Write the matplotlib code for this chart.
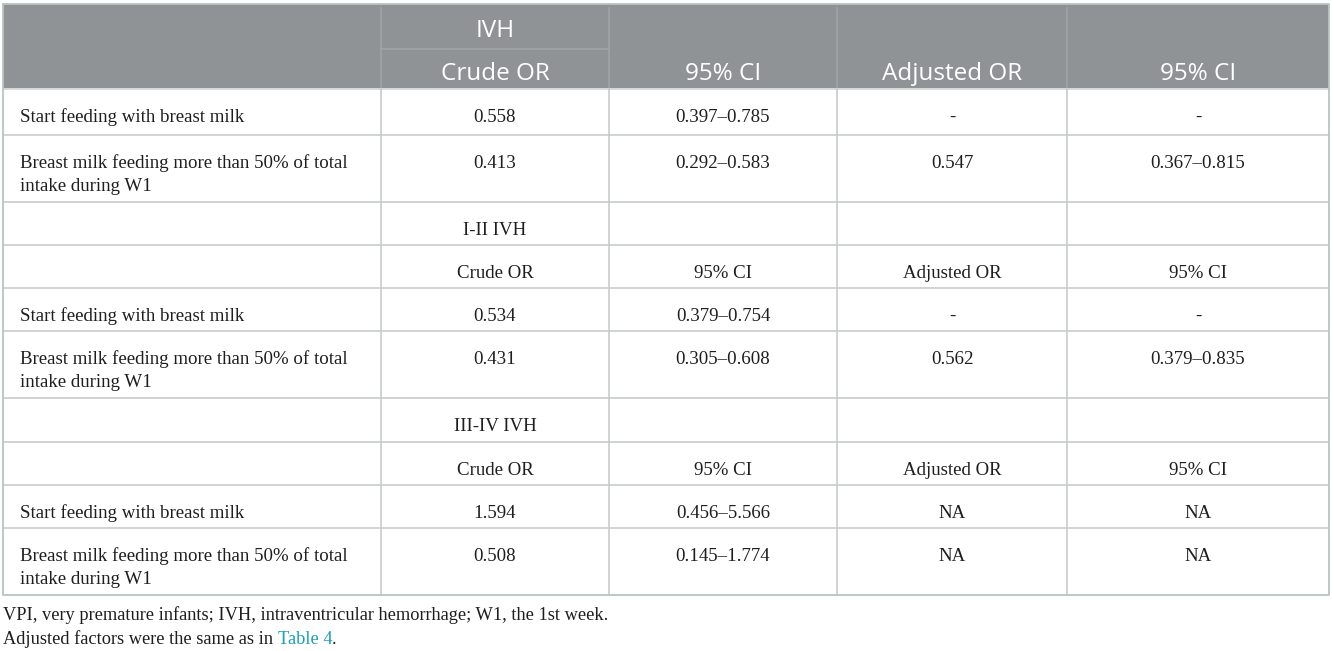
import matplotlib
matplotlib.use("Agg")
import matplotlib.pyplot as plt
from matplotlib.patches import Rectangle

# ---- data ----
header_group = "IVH"
header_cols = ["Crude OR", "95% CI", "Adjusted OR", "95% CI"]
row_labels = [
    "Start feeding with breast milk",
    "Breast milk feeding more than 50% of total\nintake during W1",
    "",
    "",
    "Start feeding with breast milk",
    "Breast milk feeding more than 50% of total\nintake during W1",
    "",
    "",
    "Start feeding with breast milk",
    "Breast milk feeding more than 50% of total\nintake during W1",
]
crude_or = ["0.558", "0.413", "I-II IVH", "Crude OR", "0.534", "0.431", "III-IV IVH", "Crude OR", "1.594", "0.508"]
ci_crude = ["0.397\u20130.785", "0.292\u20130.583", "", "95% CI", "0.379\u20130.754", "0.305\u20130.608", "", "95% CI", "0.456\u20135.566", "0.145\u20131.774"]
adj_or = ["-", "0.547", "", "Adjusted OR", "-", "0.562", "", "Adjusted OR", "NA", "NA"]
ci_adj = ["-", "0.367\u20130.815", "", "95% CI", "-", "0.379\u20130.835", "", "95% CI", "NA", "NA"]
footnote1 = "VPI, very premature infants; IVH, intraventricular hemorrhage; W1, the 1st week."
footnote2_pre = "Adjusted factors were the same as in "
footnote2_link = "Table 4"
footnote2_post = "."

# ---- layout ----
W, H = 1333, 651
fig = plt.figure(figsize=(W / 100, H / 100), dpi=100)
ax = fig.add_axes([0, 0, 1, 1])
ax.set_xlim(0, W)
ax.set_ylim(H, 0)
ax.axis("off")

col_x = [3, 381, 609, 837, 1067, 1329]
head_top, head_split, head_bot = 3.5, 49, 89
row_bounds = [89, 135, 202, 245, 288, 331, 398, 442, 485, 528, 595]

header_bg = "#8f9396"
grid_c = "#c4c8c8"
border_c = "#b8c5c0"
text_c = "#1e1e1e"
serif = ["Liberation Serif", "DejaVu Serif"]
sans = ["Open Sans", "DejaVu Sans"]
body_fs = 13.6
head_fs = 17.5
foot_fs = 13.2

# header background
ax.add_patch(Rectangle((col_x[0], head_top), col_x[-1] - col_x[0], head_bot - head_top,
                       facecolor=header_bg, edgecolor="none", zorder=1))
# header dividers
for x in col_x[1:-1]:
    ax.plot([x, x], [head_top + 4, head_bot], color="#a2a6a8", lw=1.1, zorder=2)
ax.plot([col_x[1], col_x[2]], [head_split, head_split], color="#a2a6a8", lw=1.1, zorder=2)
ax.plot([col_x[0], col_x[-1]], [head_bot, head_bot], color="#d6dada", lw=1.4, zorder=2)

# header texts
ax.text((col_x[1] + col_x[2]) / 2, 37, header_group, ha="center", va="baseline",
        color="white", fontsize=head_fs, family=sans, zorder=3)
for i, t in enumerate(header_cols):
    ax.text((col_x[i + 1] + col_x[i + 2]) / 2, 80, t, ha="center", va="baseline",
            color="white", fontsize=head_fs, family=sans, zorder=3)

# body grid
for y in row_bounds[1:-1]:
    ax.plot([col_x[0], col_x[-1]], [y, y], color=grid_c, lw=1.1, zorder=2)
for x in col_x[1:-1]:
    ax.plot([x, x], [row_bounds[0], row_bounds[-1]], color=grid_c, lw=1.1, zorder=2)
# outer border
ax.plot([col_x[0], col_x[-1], col_x[-1], col_x[0], col_x[0]],
        [head_top, head_top, row_bounds[-1], row_bounds[-1], head_top],
        color=border_c, lw=1.3, zorder=4)

# body text
body_cols = [crude_or, ci_crude, adj_or, ci_adj]
for r in range(len(row_labels)):
    top = row_bounds[r]
    ybase = top + 33
    lab = row_labels[r]
    for k, line in enumerate(lab.split("\n")):
        if line:
            ax.text(20, ybase + 23 * k, line, ha="left", va="baseline",
                    fontsize=body_fs, family=serif, color=text_c, zorder=3)
    for c, vals in enumerate(body_cols):
        v = vals[r]
        if v:
            ax.text((col_x[c + 1] + col_x[c + 2]) / 2, ybase, v, ha="center", va="baseline",
                    fontsize=body_fs, family=serif, color=text_c, zorder=3)

# footnotes
fy1, fy2 = 619.5, 644.5
ax.text(3, fy1, footnote1, ha="left", va="baseline", fontsize=foot_fs, family=serif, color=text_c)
t1 = ax.text(3, fy2, footnote2_pre, ha="left", va="baseline", fontsize=foot_fs, family=serif, color=text_c)
fig.canvas.draw()
r = fig.canvas.get_renderer()
bb = t1.get_window_extent(renderer=r)
inv = ax.transData.inverted()
x_end = inv.transform((bb.x1, bb.y0))[0]
t2 = ax.text(x_end, fy2, footnote2_link, ha="left", va="baseline", fontsize=foot_fs, family=serif, color="#1aa0b4")
fig.canvas.draw()
bb2 = t2.get_window_extent(renderer=r)
x_end2 = inv.transform((bb2.x1, bb2.y0))[0]
ax.text(x_end2, fy2, footnote2_post, ha="left", va="baseline", fontsize=foot_fs, family=serif, color=text_c)

fig.savefig("out.png", dpi=100)
